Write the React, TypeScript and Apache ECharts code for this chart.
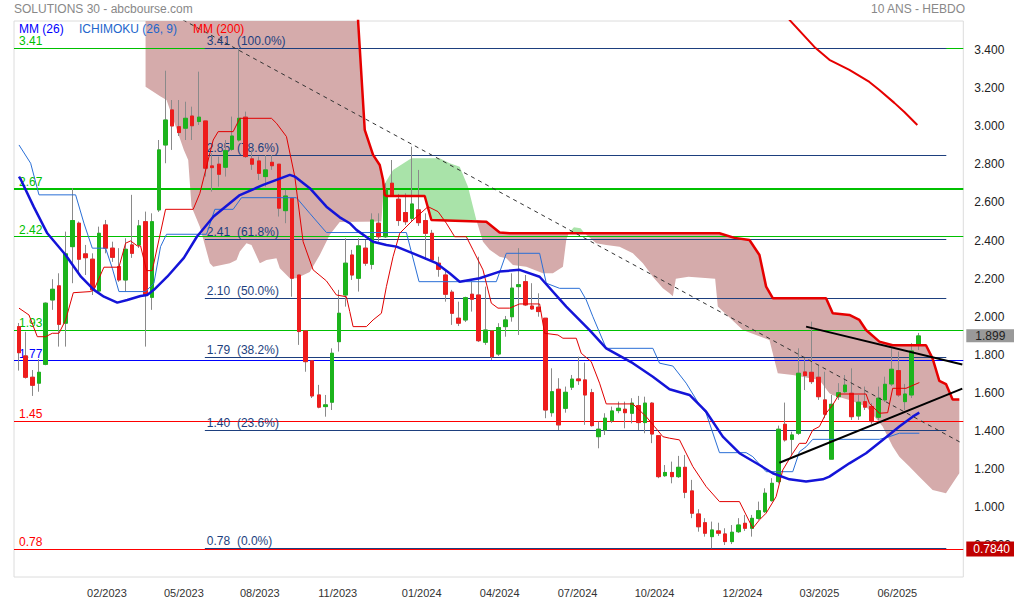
import React, { useEffect, useRef } from 'react';
import * as echarts from 'echarts';

// ---------- DATA ----------
// weekly candles: [open, close, low, high]
const candles: number[][] = [
  [1.948, 1.811, 1.717, 1.967], [1.794, 1.682, 1.675, 1.921], [1.682, 1.640, 1.584, 1.720], [1.651, 1.708, 1.606, 1.777],
  [1.750, 2.071, 1.745, 2.075], [2.088, 2.144, 2.036, 2.197], [2.162, 1.960, 1.843, 2.228], [1.966, 2.330, 1.843, 2.447],
  [2.368, 2.505, 2.176, 2.675], [2.491, 2.302, 2.219, 2.500], [2.330, 2.310, 2.219, 2.377], [2.302, 2.141, 2.114, 2.333],
  [2.135, 2.438, 2.125, 2.473], [2.482, 2.360, 2.333, 2.508], [2.360, 2.312, 2.288, 2.394], [2.263, 2.193, 2.183, 2.360],
  [2.193, 2.354, 2.132, 2.412], [2.377, 2.333, 2.309, 2.640], [2.377, 2.477, 2.361, 2.508], [2.499, 2.114, 1.843, 2.552],
  [2.102, 2.499, 2.036, 2.543], [2.561, 2.876, 2.550, 2.928], [2.902, 3.033, 2.806, 3.292], [3.086, 3.002, 2.876, 3.138],
  [2.998, 2.967, 2.949, 3.138], [2.990, 3.042, 2.928, 3.129], [3.054, 3.003, 2.928, 3.103], [3.025, 3.048, 3.007, 3.287],
  [3.028, 2.780, 2.736, 3.028], [2.792, 2.783, 2.657, 2.858], [2.801, 2.748, 2.683, 2.841], [2.785, 2.872, 2.736, 2.928],
  [2.879, 2.949, 2.871, 3.051], [2.928, 3.042, 2.919, 3.410], [3.048, 2.841, 2.834, 3.077], [2.829, 2.801, 2.771, 2.876],
  [2.818, 2.753, 2.718, 2.841], [2.736, 2.771, 2.683, 2.850], [2.811, 2.793, 2.771, 2.850], [2.801, 2.570, 2.526, 2.801],
  [2.557, 2.634, 2.491, 2.666], [2.622, 2.202, 2.105, 2.622], [2.219, 1.922, 1.852, 2.219], [1.925, 1.764, 1.711, 1.925],
  [1.768, 1.584, 1.573, 1.768], [1.589, 1.525, 1.519, 1.642], [1.528, 1.537, 1.475, 1.589], [1.551, 1.808, 1.510, 1.834],
  [1.869, 2.018, 1.817, 2.141], [2.114, 2.281, 2.053, 2.412], [2.324, 2.219, 2.193, 2.351], [2.202, 2.372, 2.132, 2.412],
  [2.360, 2.281, 2.267, 2.403], [2.275, 2.508, 2.249, 2.543], [2.491, 2.420, 2.394, 2.543], [2.420, 2.666, 2.414, 2.701],
  [2.701, 2.640, 2.629, 2.823], [2.617, 2.505, 2.477, 2.645], [2.547, 2.499, 2.482, 2.648], [2.517, 2.592, 2.498, 2.893],
  [2.561, 2.494, 2.477, 2.771], [2.505, 2.438, 2.298, 2.543], [2.438, 2.298, 2.288, 2.456], [2.281, 2.249, 2.210, 2.315],
  [2.219, 2.118, 2.079, 2.246], [2.129, 2.018, 1.957, 2.141], [1.992, 1.966, 1.951, 2.079], [1.983, 2.100, 1.972, 2.105],
  [2.118, 2.092, 2.027, 2.184], [2.114, 1.874, 1.867, 2.315], [1.866, 1.930, 1.852, 2.158], [1.925, 1.790, 1.773, 1.925],
  [1.804, 1.943, 1.794, 1.966], [1.948, 1.983, 1.895, 2.004], [2.000, 2.150, 1.974, 2.228], [2.158, 2.168, 1.904, 2.360],
  [2.184, 2.062, 2.056, 2.219], [2.056, 2.041, 2.036, 2.176], [2.050, 2.027, 2.000, 2.123], [1.992, 1.510, 1.467, 1.992],
  [1.496, 1.606, 1.475, 1.729], [1.619, 1.432, 1.405, 1.677], [1.519, 1.603, 1.496, 1.633], [1.630, 1.672, 1.615, 1.694],
  [1.673, 1.664, 1.642, 1.790], [1.668, 1.589, 1.432, 1.759], [1.601, 1.428, 1.423, 1.621], [1.370, 1.409, 1.309, 1.449],
  [1.405, 1.467, 1.379, 1.493], [1.454, 1.505, 1.442, 1.528], [1.507, 1.519, 1.493, 1.554], [1.514, 1.496, 1.414, 1.554],
  [1.493, 1.546, 1.440, 1.572], [1.533, 1.444, 1.405, 1.584], [1.444, 1.546, 1.388, 1.580], [1.546, 1.384, 1.336, 1.551],
  [1.375, 1.160, 1.152, 1.375], [1.165, 1.182, 1.159, 1.221], [1.182, 1.160, 1.125, 1.239], [1.160, 1.209, 1.153, 1.269],
  [1.209, 1.078, 1.047, 1.274], [1.085, 0.968, 0.942, 1.143], [0.964, 0.897, 0.871, 0.989], [0.918, 0.863, 0.845, 0.942],
  [0.845, 0.880, 0.784, 0.924], [0.875, 0.863, 0.849, 0.918], [0.859, 0.819, 0.801, 0.889], [0.819, 0.868, 0.806, 0.906],
  [0.871, 0.906, 0.864, 0.942], [0.915, 0.889, 0.875, 0.959], [0.889, 0.941, 0.845, 0.959], [0.941, 0.981, 0.933, 1.029],
  [0.976, 1.073, 0.969, 1.099], [1.034, 1.125, 1.029, 1.152], [1.134, 1.409, 1.125, 1.428], [1.435, 1.353, 1.344, 1.549],
  [1.356, 1.379, 1.274, 1.396], [1.388, 1.703, 1.379, 1.834], [1.710, 1.691, 1.615, 1.790], [1.708, 1.659, 1.647, 1.974],
  [1.682, 1.580, 1.563, 1.741], [1.563, 1.488, 1.467, 1.711], [1.252, 1.540, 1.252, 1.589], [1.580, 1.601, 1.563, 1.651],
  [1.606, 1.641, 1.600, 1.694], [1.598, 1.475, 1.458, 1.729], [1.479, 1.551, 1.458, 1.589], [1.554, 1.525, 1.510, 1.633],
  [1.528, 1.449, 1.437, 1.546], [1.472, 1.572, 1.458, 1.633], [1.563, 1.645, 1.552, 1.685], [1.647, 1.724, 1.636, 1.834],
  [1.717, 1.589, 1.579, 1.817], [1.554, 1.594, 1.510, 1.647], [1.589, 1.820, 1.573, 1.861], [1.849, 1.899, 1.825, 1.915],
];

// indicator lines: [week index, value]
const mm26: number[][] = [
  [0, 2.736], [0.3, 2.718], [2.2, 2.578], [4.25, 2.438], [7, 2.324], [9.3, 2.21], [11.25, 2.141], [12.75, 2.105],
  [14.75, 2.074], [16.25, 2.088], [18.25, 2.109], [19.25, 2.114], [20.25, 2.141], [22.25, 2.21], [24.75, 2.309],
  [26.7, 2.42], [29.2, 2.526], [33.15, 2.639], [36.65, 2.692], [40.65, 2.745], [41.4, 2.736], [43.65, 2.675],
  [46.15, 2.578], [48.15, 2.522], [49.65, 2.491], [50.65, 2.456], [53.15, 2.394], [55.15, 2.377], [56.65, 2.368],
  [59.15, 2.333], [62.65, 2.281], [64.65, 2.228], [66.15, 2.184], [69.15, 2.202], [72.15, 2.237], [75.15, 2.246],
  [78.15, 2.21], [82.15, 2.053], [85.65, 1.93], [88.15, 1.834], [92.15, 1.756], [95.15, 1.685], [97.65, 1.619],
  [100.65, 1.589], [103.15, 1.501], [105.65, 1.37], [108.15, 1.283], [111.15, 1.221], [113.15, 1.178], [115.65, 1.146],
  [118.15, 1.134], [120.65, 1.146], [121.65, 1.16], [124.65, 1.23], [127.15, 1.283], [129.65, 1.353], [132.15, 1.423],
  [134.15, 1.475], [135.15, 1.496],
];
const tenkan: number[][] = [
  [0, 2.045], [1.5, 2.009], [2.75, 1.895], [4, 1.895], [5, 1.913], [6, 1.913], [7, 1.983], [8.15, 2.126], [10.75, 2.132],
  [11.25, 2.141], [12.75, 2.26], [15, 2.26], [16, 2.386], [16.75, 2.398], [17.75, 2.372], [18.25, 2.372], [19.15, 2.242],
  [20, 2.242], [22, 2.564], [26.15, 2.564], [27.15, 2.648], [29.15, 2.928], [29.9, 2.972], [32.15, 2.972], [33.15, 3.042],
  [37.9, 3.042], [38.65, 3.016], [40.15, 2.946], [41.4, 2.736], [42.65, 2.394], [44.15, 2.246], [46.15, 2.188],
  [47.65, 2.114], [49.15, 2.105], [49.65, 2.027], [50.15, 1.948], [52.15, 1.948], [53.15, 1.983], [54.4, 2.018],
  [55.15, 2.158], [56.15, 2.315], [57.15, 2.438], [59.15, 2.508], [61.4, 2.578], [62.9, 2.552], [64.15, 2.491],
  [65.4, 2.42], [67.15, 2.42], [68.15, 2.351], [69.65, 2.246], [70.9, 2.071], [71.9, 2.045], [73.65, 2.045],
  [75.15, 2.067], [78.15, 2.067], [78.9, 1.913], [80.9, 1.904], [81.65, 1.887], [83.65, 1.887], [84.4, 1.808],
  [85.9, 1.764], [87.15, 1.651], [88.15, 1.542], [92.15, 1.542], [94.15, 1.475], [95.4, 1.423], [96.65, 1.37],
  [97.65, 1.362], [99.15, 1.353], [101.15, 1.213], [103.15, 1.108], [105.15, 1.029], [108.15, 1.029], [110.15, 0.889],
  [111.15, 0.933], [112.15, 0.968], [113.65, 1.055], [114.65, 1.195], [116.15, 1.283], [117.15, 1.335], [118.15, 1.335],
  [119.15, 1.405], [120.15, 1.423], [121.15, 1.493], [122.15, 1.537], [123.15, 1.594], [127.15, 1.594], [127.65, 1.545],
  [129.15, 1.493], [130.4, 1.496], [131.15, 1.624], [133.15, 1.624], [135.15, 1.654],
];
const kijun: number[][] = [
  [0, 2.902], [1.75, 2.806], [3, 2.64], [8.5, 2.64], [9.75, 2.491], [11, 2.36], [13, 2.36], [14, 2.255], [15, 2.132],
  [19, 2.132], [20.25, 2.176], [21.25, 2.368], [22.15, 2.433], [28.15, 2.433], [29.4, 2.564], [32.15, 2.564],
  [33.4, 2.625], [41.65, 2.625], [43.65, 2.543], [46.15, 2.442], [58.15, 2.442], [60.05, 2.184], [71.65, 2.184],
  [73.15, 2.333], [78.15, 2.333], [79.15, 2.176], [81.15, 2.149], [84.15, 2.149], [85.15, 2.088], [86.15, 2.0],
  [88.15, 1.834], [95.15, 1.834], [96.15, 1.756], [98.15, 1.741], [100.15, 1.651], [102.15, 1.537], [103.15, 1.493],
  [105.15, 1.286], [109.15, 1.286], [110.15, 1.265], [112.15, 1.186], [116.15, 1.186], [117.15, 1.291], [118.15, 1.317],
  [119.15, 1.356], [129.15, 1.356], [130.65, 1.37], [132.15, 1.388], [135.15, 1.388],
];
const senkouB: number[][] = [
  [50.3, 3.9], [51.9, 2.981], [53.15, 2.85], [54.15, 2.797], [54.65, 2.718], [54.9, 2.64], [55.15, 2.634], [60.9, 2.634],
  [61.9, 2.508], [70.15, 2.499], [72.15, 2.442], [73.65, 2.438], [105.15, 2.438], [107.4, 2.414], [109.65, 2.403],
  [111.15, 2.324], [112.15, 2.158], [113.15, 2.097], [121.15, 2.097], [122.15, 2.018], [124.65, 2.009], [126.15, 1.983],
  [127.15, 1.93], [129.15, 1.869], [131.15, 1.85], [136.15, 1.85], [137.15, 1.78], [138.15, 1.663], [139.15, 1.646],
  [140.15, 1.565], [141.15, 1.565],
];
const mm200: number[][] = [
  [114.5, 3.65], [115.65, 3.559], [119.4, 3.417], [121.65, 3.349], [124.65, 3.296], [127.65, 3.233], [129.15, 3.191],
  [131.4, 3.123], [132.9, 3.075], [134.85, 3.007],
];
const CLOUD_TOP = 3.553;
const cloudBearish: number[][][] = [
  [
    [19, CLOUD_TOP], [50.9, CLOUD_TOP], [51.9, 2.981], [53.15, 2.85], [54.15, 2.797], [54.65, 2.718], [54.75, 2.69],
    [54.4, 2.5], [48.15, 2.498], [46.65, 2.43], [45.15, 2.324], [43.65, 2.235], [41.65, 2.202], [40.65, 2.202],
    [39.15, 2.255], [38.65, 2.307], [37.15, 2.298], [36.15, 2.281], [34.9, 2.377], [34.15, 2.386], [33.15, 2.342],
    [32.65, 2.298], [31.65, 2.281], [29.15, 2.263], [28.65, 2.281], [27.15, 2.473], [25.9, 2.578], [25.4, 2.823],
    [24.75, 2.876], [22.15, 3.138], [21.25, 3.156], [19, 3.208],
  ],
  [
    [68.65, 2.508], [70.15, 2.499], [72.15, 2.442], [73.65, 2.438], [105.15, 2.438], [107.4, 2.414], [109.65, 2.403],
    [111.15, 2.324], [112.15, 2.158], [113.15, 2.097], [121.15, 2.097], [122.15, 2.018], [124.65, 2.009],
    [126.15, 1.983], [127.15, 1.93], [129.15, 1.869], [131.15, 1.85], [136.15, 1.85], [137.15, 1.78], [138.15, 1.663],
    [139.15, 1.646], [140.15, 1.565], [141.15, 1.565],
    [141.15, 1.178], [140.15, 1.125], [139.15, 1.073], [137.15, 1.09], [135.15, 1.16], [133.65, 1.213], [132.15, 1.265],
    [131.15, 1.318], [129.65, 1.423], [127.15, 1.528], [124.65, 1.563], [122.1, 1.589], [121.65, 1.598], [120.15, 1.668],
    [116.15, 1.694], [113.9, 1.703], [112.65, 1.878], [108.65, 1.93], [104.9, 2.053], [104.5, 2.2], [100.5, 2.21],
    [98.6, 2.2], [98.15, 2.108], [97.65, 2.123], [96.65, 2.149], [95.15, 2.21], [93.65, 2.281], [92.15, 2.333],
    [90.15, 2.368], [88.15, 2.377], [86.65, 2.386], [84.9, 2.438], [82.5, 2.438], [82.15, 2.403], [81.65, 2.263],
    [80.15, 2.228], [78.65, 2.228], [76.15, 2.263], [74.15, 2.272], [73.15, 2.307], [72.15, 2.315], [70.65, 2.351],
    [69.65, 2.394],
  ],
];
const cloudBullish: number[][][] = [
  [
    [54.75, 2.69], [56.15, 2.771], [58.9, 2.832], [63.15, 2.832], [64.65, 2.806], [66.15, 2.788], [67.4, 2.683],
    [68.15, 2.578], [68.65, 2.508], [61.9, 2.508], [60.9, 2.634], [55.15, 2.634], [54.9, 2.64],
  ],
  [[82.5, 2.438], [83.3, 2.47], [84.3, 2.465], [84.9, 2.438]],
];
const dashedTrend: number[][] = [[24.6, 3.559], [141.6, 1.335]];
const upperTrend: number[][] = [[118.15, 1.948], [141.6, 1.749]];
const lowerTrend: number[][] = [[114.15, 1.233], [141.6, 1.622]];

const levelValues = [3.41, 2.67, 2.42, 1.93, 1.77, 1.45, 0.78];
const levelLabels = ['3.41', '2.67', '2.42', '1.93', '1.77', '1.45', '0.78'];
const fiboValues = [3.41, 2.848, 2.407, 2.097, 1.787, 1.404, 0.784];
const fiboLabels = ['3.41  (100.0%)', '2.85  (78.6%)', '2.41  (61.8%)', '2.10  (50.0%)', '1.79  (38.2%)', '1.40  (23.6%)', '0.78  (0.0%)'];
const fiboSpan = [27.9, 139.2];

const yTicks = [0.8, 1.0, 1.2, 1.4, 1.6, 1.8, 2.0, 2.2, 2.4, 2.6, 2.8, 3.0, 3.2, 3.4];
const yTickLabels = ['0.8000', '1.000', '1.200', '1.400', '1.600', '1.800', '2.000', '2.200', '2.400', '2.600', '2.800', '3.000', '3.200', '3.400'];
const xTickPos = [13.2, 24.75, 36.15, 47.85, 60.45, 72.15, 83.85, 95.4, 108.6, 120.15, 131.85];
const xTickLabels = ['02/2023', '05/2023', '08/2023', '11/2023', '01/2024', '04/2024', '07/2024', '10/2024', '12/2024', '03/2025', '06/2025'];
const lastPrice = 1.899;
const lowPrice = 0.784;

// ---------- STYLES ----------
const FONT = '"Liberation Sans", Arial, sans-serif';
const GREEN = '#1cb41c';
const RED = '#ee1c1c';
const levelColors = ['#00c000', '#00c000', '#00c000', '#00c000', '#0000ff', '#ff0000', '#ff0000'];
const levelWidths = [1, 2, 1, 1, 1, 1, 1];
const FIBO = '#1d3f7e';
const CLOUD_BEAR = '#d5abab';
const CLOUD_BULL = '#a9e3a9';

function buildOption(): any {
  const yMin = 0.633;
  const yMax = 3.553;
  const line = (data: number[][], color: string, width: number, z = 5, type: any = 'solid') => ({
    type: 'line', data, showSymbol: false, symbol: 'none', silent: true, z, clip: true,
    lineStyle: { color, width, type }, emphasis: { disabled: true },
  });

  const levelLines = levelValues.map((v, i) => ({
    yAxis: v,
    lineStyle: { color: levelColors[i], width: levelWidths[i], type: 'solid' },
    label: {
      show: true, position: 'insideStartTop', formatter: levelLabels[i], color: levelColors[i],
      fontSize: 12, fontFamily: FONT, distance: [5, 1],
    },
  }));
  const fiboLines = fiboValues.map((v, i) => [
    {
      coord: [fiboSpan[0], v],
      lineStyle: { color: FIBO, width: 1, type: 'solid' },
      label: {
        show: true, position: 'insideStartTop', formatter: fiboLabels[i].replace(/ /g, '\u00a0'), color: FIBO,
        fontSize: 12, fontFamily: FONT, distance: [2, 1],
      },
    },
    { coord: [fiboSpan[1], v] },
  ]);

  return {
    animation: false,
    textStyle: { fontFamily: FONT },
    grid: { left: 14, right: 50, top: 21, bottom: 26, show: true, borderColor: '#dcdcdc', borderWidth: 1 },
    xAxis: {
      type: 'value', min: -0.75, max: 141.75,
      splitLine: { show: false }, axisLine: { show: false }, axisTick: { show: false },
      axisLabel: {
        customValues: xTickPos,
        formatter: (v: number) => {
          const i = xTickPos.findIndex((t) => Math.abs(t - v) < 1e-6);
          return i >= 0 ? xTickLabels[i] : '';
        },
        color: '#333', fontSize: 11, margin: 10, fontFamily: FONT,
      },
    },
    yAxis: {
      type: 'value', position: 'right', min: yMin, max: yMax,
      splitLine: { show: false }, axisLine: { show: false }, axisTick: { show: false },
      axisLabel: {
        customValues: yTicks,
        formatter: (v: number) => {
          const i = yTicks.findIndex((t) => Math.abs(t - v) < 1e-6);
          return i >= 0 ? yTickLabels[i] : '';
        },
        color: '#222', fontSize: 12, margin: 11, fontFamily: FONT, padding: [0, 0, 4, 0],
      },
    },
    graphic: [
      { type: 'text', x: 14, y: 9, style: { text: 'SOLUTIONS 30 - abcbourse.com', fill: '#888', fontSize: 12, fontFamily: FONT, verticalAlign: 'middle', align: 'left' } },
      { type: 'text', x: 965, y: 9, style: { text: '10 ANS - HEBDO', fill: '#888', fontSize: 12, fontFamily: FONT, verticalAlign: 'middle', align: 'right' } },
      { type: 'text', x: 19, y: 29, z: 100, style: { text: 'MM (26)', fill: '#0000ff', fontSize: 12, fontFamily: FONT, verticalAlign: 'middle', align: 'left' } },
      { type: 'text', x: 79, y: 29, z: 100, style: { text: 'ICHIMOKU (26, 9)', fill: '#2266cc', fontSize: 12, fontFamily: FONT, verticalAlign: 'middle', align: 'left' } },
      { type: 'text', x: 193, y: 29, z: 100, style: { text: 'MM (200)', fill: '#ff0000', fontSize: 12, fontFamily: FONT, verticalAlign: 'middle', align: 'left' } },
    ],
    series: [
      {
        type: 'custom', z: 1, silent: true, clip: true,
        data: [[0, 1]],
        encode: { x: 0, y: 1 },
        renderItem: (_p: any, api: any) => ({
          type: 'group',
          children: [
            ...cloudBearish.map((poly) => ({
              type: 'polygon', shape: { points: poly.map((pt) => api.coord(pt)) }, style: { fill: CLOUD_BEAR },
            })),
            ...cloudBullish.map((poly) => ({
              type: 'polygon', shape: { points: poly.map((pt) => api.coord(pt)) }, style: { fill: CLOUD_BULL },
            })),
          ],
        }),
      },
      {
        type: 'candlestick', name: 'wicks', z: 3, silent: true,
        data: candles.map((c, i) => [i, c[0], c[1], c[2], c[3]]),
        encode: { x: 0, y: [1, 2, 3, 4] },
        barWidth: 4,
        itemStyle: { color: 'transparent', color0: 'transparent', borderColor: '#8a8a8a', borderColor0: '#8a8a8a', borderWidth: 1 },
        markLine: {
          silent: true, symbol: ['none', 'none'], z: 2, animation: false,
          data: [...levelLines, ...fiboLines],
        },
      },
      {
        type: 'candlestick', name: 'bodies', z: 4, silent: true,
        data: candles.map((c, i) => [i, c[0], c[1], Math.min(c[0], c[1]), Math.max(c[0], c[1])]),
        encode: { x: 0, y: [1, 2, 3, 4] },
        barWidth: 4,
        itemStyle: { color: GREEN, color0: RED, borderColor: GREEN, borderColor0: RED, borderWidth: 1 },
        markLine: {
          silent: true, symbol: ['none', 'none'], z: 20, animation: false,
          data: [
            {
              yAxis: lastPrice, lineStyle: { color: 'rgba(0,0,0,0)', width: 1 },
              label: { show: true, position: 'end', formatter: lastPrice.toFixed(3), backgroundColor: '#999999', color: '#222', fontSize: 12, fontFamily: FONT, padding: [1, 10, 0, 9], distance: 3 },
            },
            {
              yAxis: lowPrice, lineStyle: { color: 'rgba(0,0,0,0)', width: 1 },
              label: { show: true, position: 'end', formatter: lowPrice.toFixed(4), backgroundColor: '#c00000', color: '#fff', fontSize: 12, fontFamily: FONT, padding: [2, 10, 1, 7], distance: 3 },
            },
          ],
        },
      },
      line(senkouB, '#e60000', 2.5, 5),
      line(kijun, '#2a6fd6', 1, 6),
      line(tenkan, '#e00000', 1, 6),
      line(mm26, '#1414d8', 2.5, 7),
      line(mm200, '#e60000', 2, 7),
      line(dashedTrend, '#333', 1, 8, [4, 4]),
      line(upperTrend, '#000', 2, 8),
      line(lowerTrend, '#000', 2, 8),
    ],
  };
}

export default function App() {
  const ref = useRef<HTMLDivElement>(null);
  useEffect(() => {
    if (!ref.current) return;
    const chart = echarts.init(ref.current, null, { renderer: 'svg' });
    chart.setOption(buildOption());
    return () => chart.dispose();
  }, []);
  return <div ref={ref} style={{ position: 'absolute', left: 0, top: 0, width: 1014, height: 603, background: '#fff' }} />;
}
